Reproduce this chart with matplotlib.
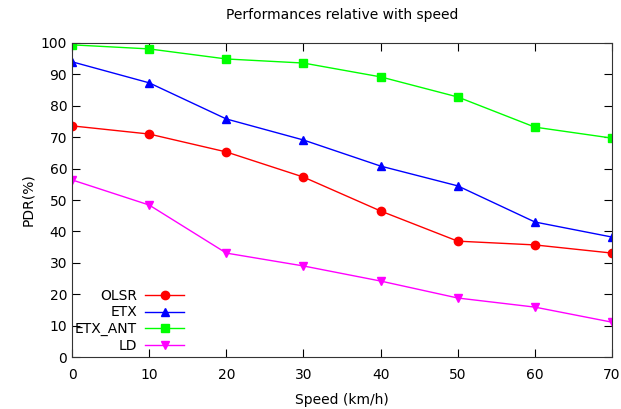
import matplotlib
matplotlib.use("Agg")
import matplotlib.pyplot as plt

# data
speed = [0, 10, 20, 30, 40, 50, 60, 70]
olsr = [73.6, 71.0, 65.3, 57.3, 46.5, 36.9, 35.7, 33.1]
etx = [94.0, 87.3, 75.8, 69.1, 60.8, 54.5, 43.0, 38.2]
etx_ant = [99.4, 98.1, 94.9, 93.6, 89.2, 82.8, 73.2, 69.7]
ld = [56.4, 48.4, 33.1, 29.0, 24.2, 18.8, 15.9, 11.1]

fig = plt.figure(figsize=(6.21, 4.09), dpi=100)
ax = fig.add_axes([0.116, 0.127, 0.8695, 0.768])

ax.plot(speed, olsr, color="#ff0000", marker="o", markersize=6, linewidth=1, label="OLSR")
ax.plot(speed, etx, color="#0000ff", marker="^", markersize=6, linewidth=1, label="ETX")
ax.plot(speed, etx_ant, color="#00ff00", marker="s", markersize=6, linewidth=1, label="ETX_ANT")
ax.plot(speed, ld, color="#ff00ff", marker="v", markersize=6, linewidth=1, label="LD")

ax.set_xlim(0, 70)
ax.set_ylim(0, 100)
ax.set_xticks(range(0, 71, 10))
ax.set_yticks(range(0, 101, 10))
ax.tick_params(direction="in", top=True, right=True, length=6, labelsize=10)
ax.tick_params(axis="x", pad=8)
for s in ax.spines.values():
    s.set_color("#333333")

ax.set_title("Performances relative with speed", fontsize=10, pad=17)
ax.set_xlabel("Speed (km/h)", fontsize=10, labelpad=8)
ax.set_ylabel("PDR(%)", fontsize=10)

# gnuplot-like key: text on the left, sample on the right
ax.legend(loc="lower left", bbox_to_anchor=(-0.005, -0.005), markerfirst=False, frameon=False,
          fontsize=10, handlelength=2.8, handletextpad=0.6, labelspacing=0.2,
          borderaxespad=0.1, borderpad=0.3)

plt.savefig("out.png", dpi=100)
